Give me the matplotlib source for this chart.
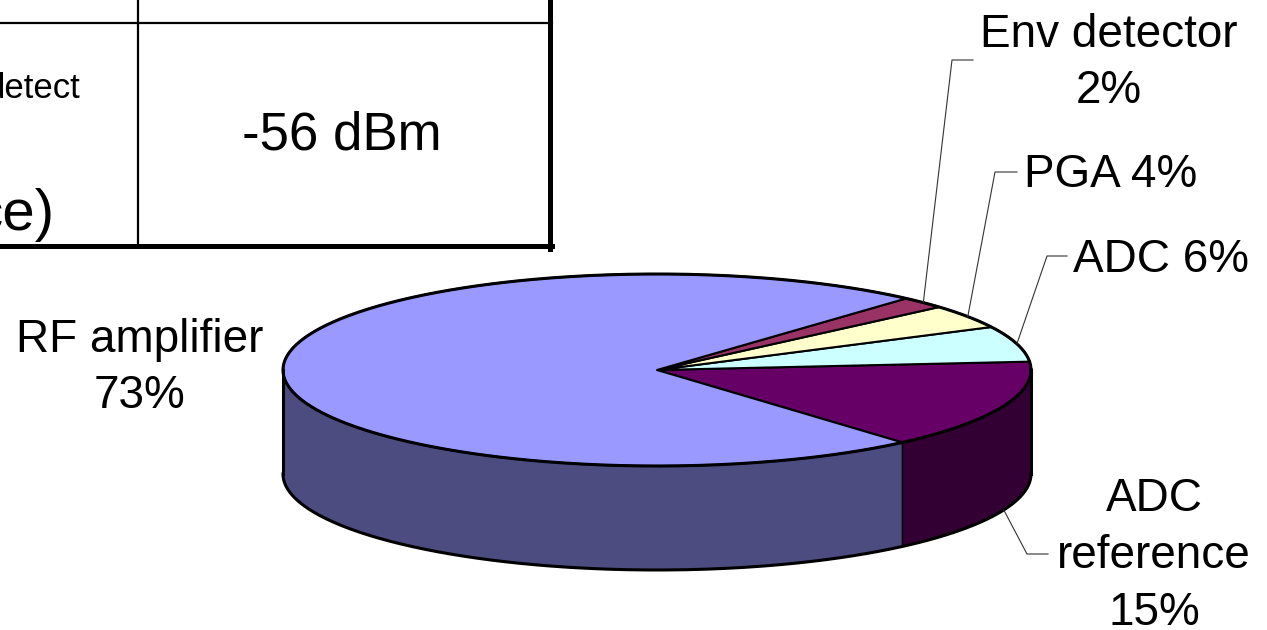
import numpy as np
import matplotlib
matplotlib.use('Agg')
import matplotlib.pyplot as plt

plt.rcParams['font.family'] = ['Liberation Sans', 'DejaVu Sans']

# Pie data, counter-clockwise starting at the front edge of "ADC reference"
names = ['ADC\nreference', 'ADC', 'PGA', 'Env detector', 'RF amplifier']
shares = [15, 6, 4, 2, 73]
seps = ['\n', ' ', ' ', '\n', '\n']
top_colors = ['#660066', '#CCFFFF', '#FFFFCC', '#993366', '#9999FF']
side_colors = ['#330033', '#668080', '#808066', '#4D1A33', '#4C4C80']

# Cropped table in the top left corner
table_value = '-56 dBm'
table_cut_small = 'detect'
table_cut_big = 'ce)'

# Layout (pixel coordinates of the 1267x630 picture)
cx, cy = 657, 370
rx, ry = 374, 96
depth = 104
start = -49
label_pos = [(1154, 556), (1161, 260), (1111, 175), (1109, 63), (140, 368)]
elbows = [(1027, 554, 1048), (1047, 256, 1067), (995, 172, 1017),
          (952, 60, 973), None]


def rim(t, dz=0):
    t = np.radians(t)
    return cx + rx * np.cos(t), cy - ry * np.sin(t) + dz


fig = plt.figure(figsize=(12.67, 6.30), dpi=100)
ax = fig.add_axes([0, 0, 1, 1])
ax.set_xlim(0, 1267)
ax.set_ylim(630, 0)
ax.axis('off')

edges = start + 360 * np.cumsum([0] + shares) / sum(shares)

# side walls (only the front half can be seen)
for i in range(len(shares)):
    t1, t2 = edges[i], edges[i + 1]
    for lo, hi in [(-180, 0), (180, 360), (540, 720)]:
        s, e = max(t1, lo), min(t2, hi)
        if e <= s:
            continue
        ts = np.linspace(s, e, 200)
        xt, yt = rim(ts)
        xb, yb = rim(ts[::-1], depth)
        ax.fill(np.r_[xt, xb], np.r_[yt, yb], facecolor=side_colors[i],
                edgecolor='black', lw=1.0, zorder=1)

# top face
for i in range(len(shares)):
    ts = np.linspace(edges[i], edges[i + 1], 300)
    xt, yt = rim(ts)
    ax.fill(np.r_[cx, xt], np.r_[cy, yt], facecolor=top_colors[i],
            edgecolor='black', lw=1.5, joinstyle='round', zorder=2)

# outer outline
ts = np.linspace(0, 360, 600)
ax.plot(*rim(ts), color='black', lw=2.2, zorder=3)
ts = np.linspace(180, 360, 300)
ax.plot(*rim(ts, depth), color='black', lw=2.2, zorder=3)
for t in [0, 180]:
    x0, y0 = rim(t)
    ax.plot([x0, x0], [y0, y0 + depth], color='black', lw=2.2, zorder=3)

# labels and leader lines
for i in range(len(shares)):
    text = names[i] + seps[i] + str(shares[i]) + '%'
    ax.text(label_pos[i][0], label_pos[i][1], text, fontsize=33,
            ha='center', va='center', multialignment='center',
            linespacing=1.38, zorder=4)
    if elbows[i] is None:
        continue
    mid = (edges[i] + edges[i + 1]) / 2
    dz = depth if np.sin(np.radians(mid)) < 0 else 0
    x0, y0 = rim(mid, dz)
    ex, ey, hx = elbows[i]
    ax.plot([x0, ex, hx], [y0, ey, ey], color='#333333', lw=0.8, zorder=4)

# table fragment
ax.plot([-5, 552], [23, 23], color='black', lw=1.6)
ax.plot([138, 138], [-5, 247], color='black', lw=1.6)
ax.plot([550, 550], [-5, 249], color='black', lw=3.6)
ax.plot([-5, 552], [246, 246], color='black', lw=3.6)
ax.text(342, 136, table_value, fontsize=38, ha='center', va='center')
ax.text(80, 98, table_cut_small, fontsize=25, ha='right', va='baseline')
ax.text(55, 230, table_cut_big, fontsize=42, ha='right', va='baseline')

fig.savefig('out.png', dpi=100)
